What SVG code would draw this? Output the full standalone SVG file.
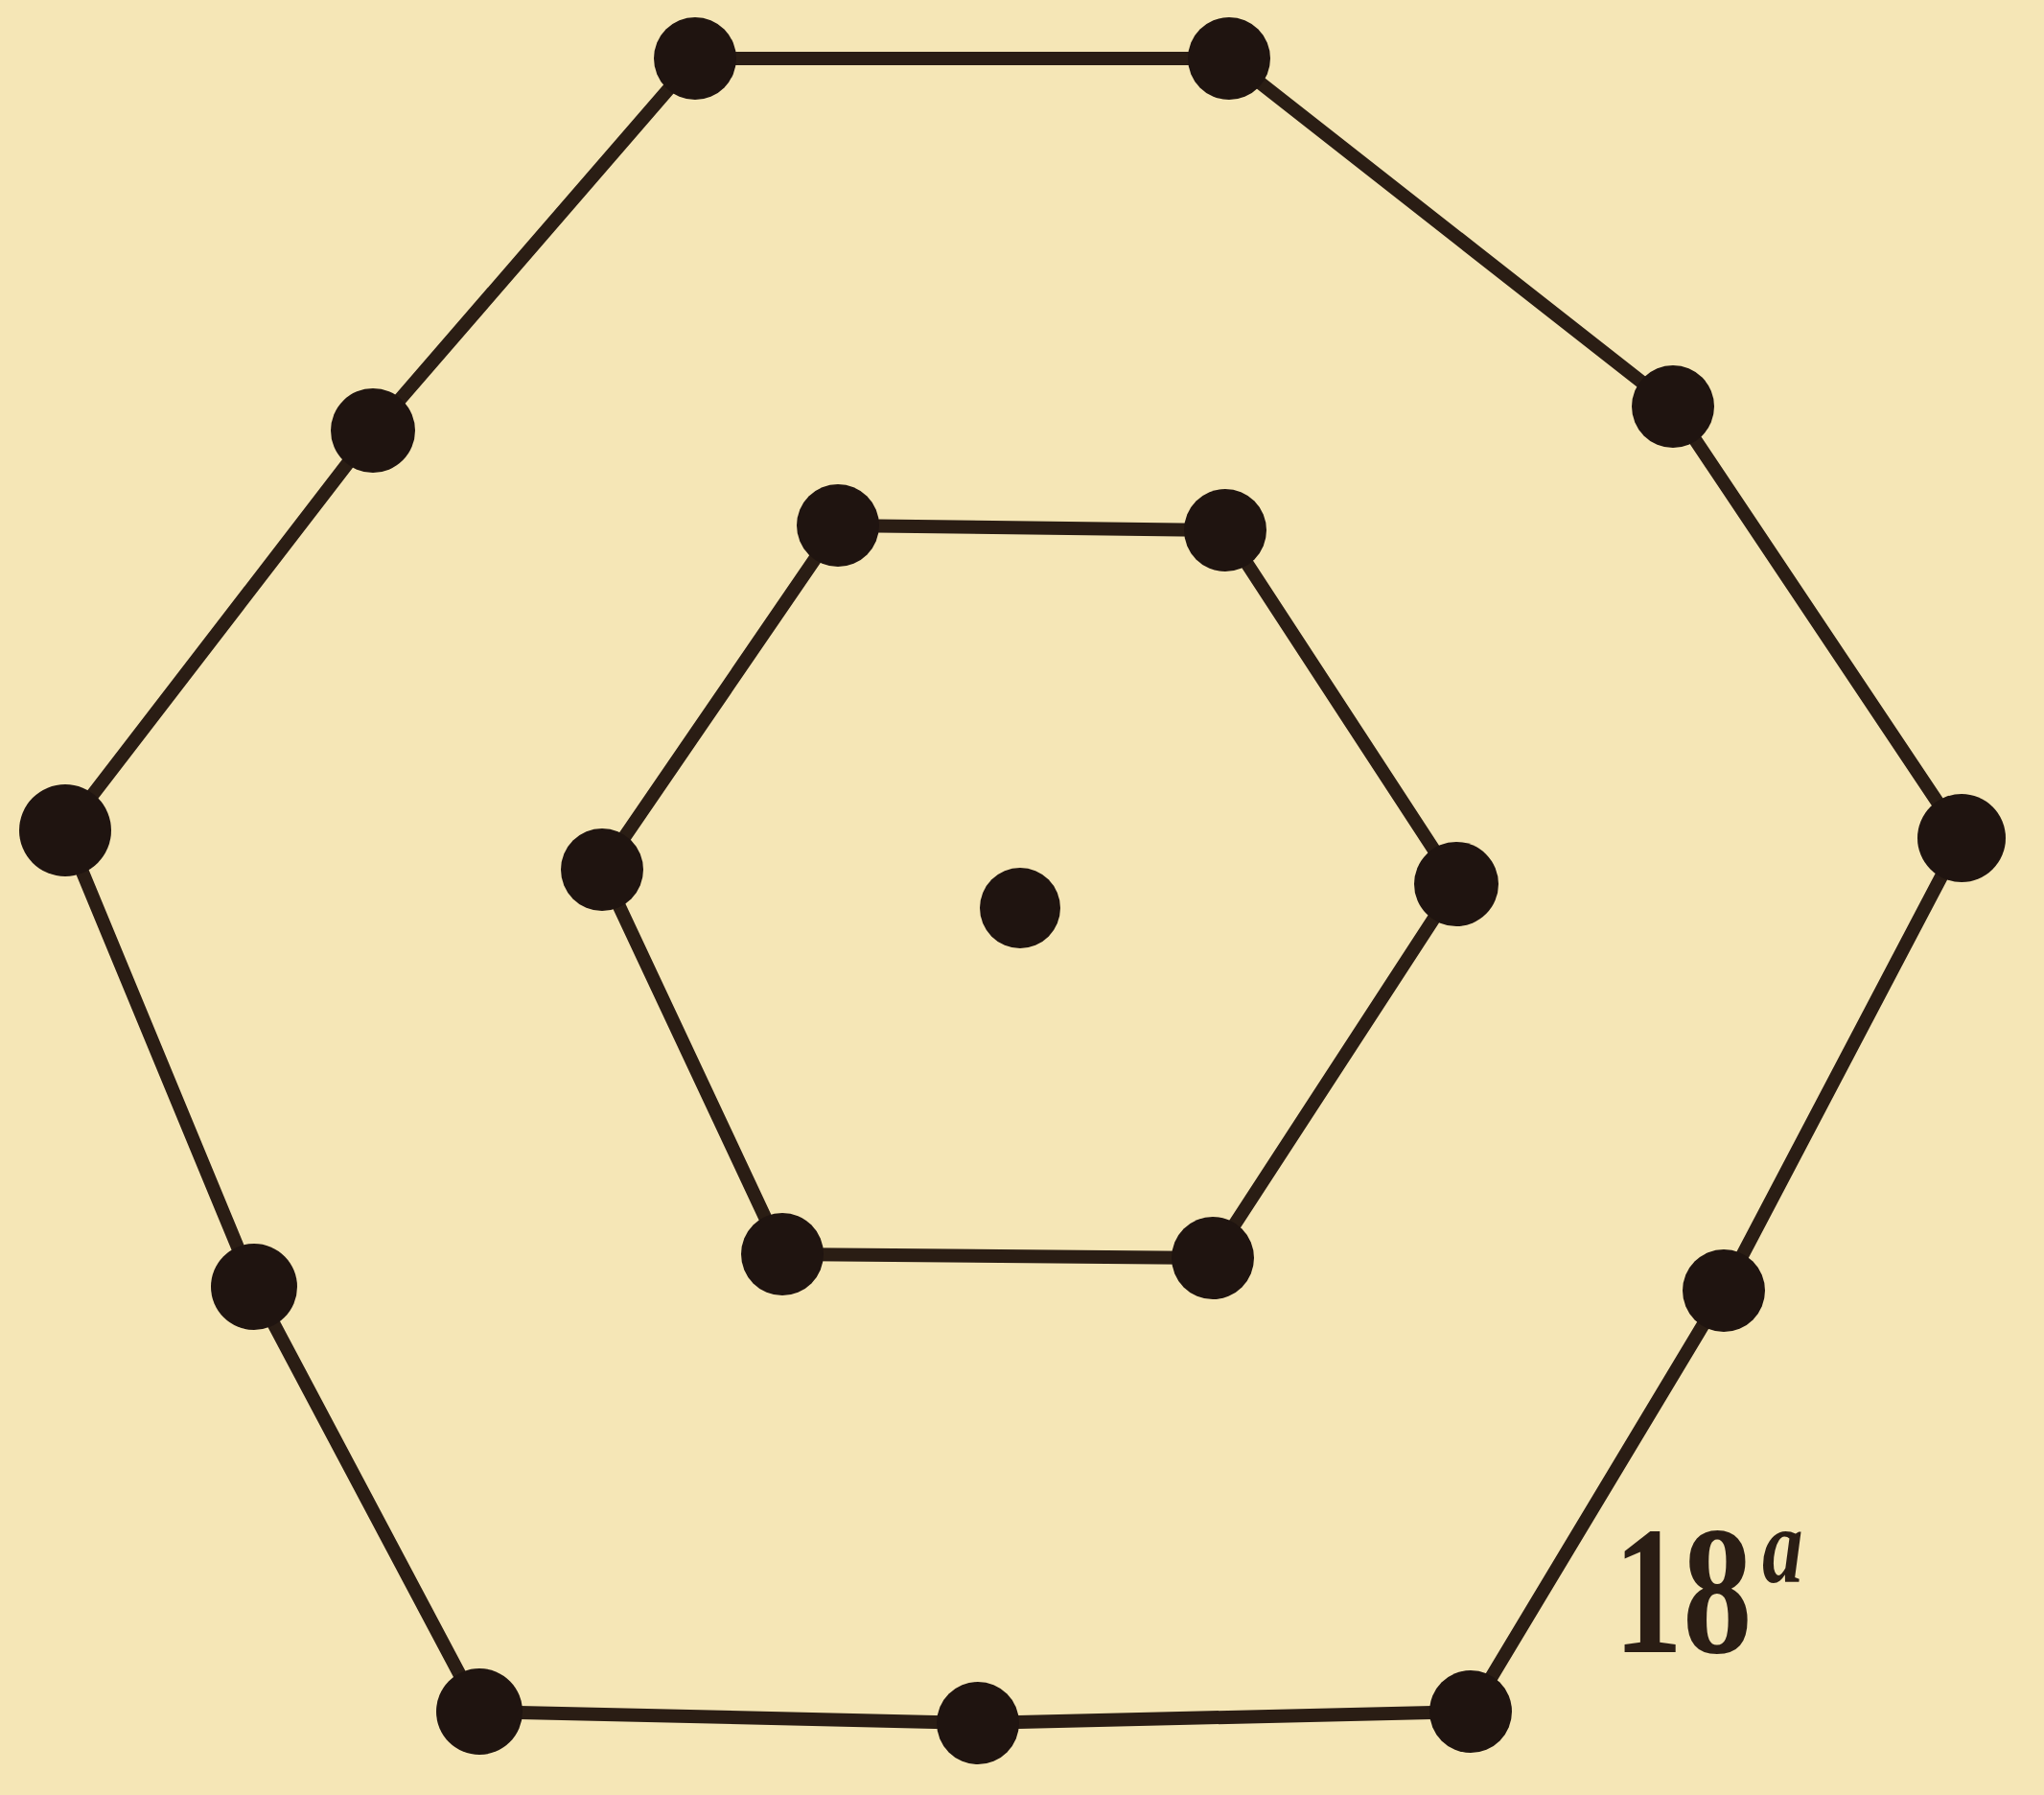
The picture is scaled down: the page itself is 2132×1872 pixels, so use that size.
<svg xmlns="http://www.w3.org/2000/svg" width="2132" height="1872" viewBox="0 0 2132 1872">
<style>
.edge{stroke:#2a1d14;stroke-width:14;fill:none;stroke-linejoin:round}
.dot{fill:#1f1410}
.lbl{font-family:"Liberation Serif","DejaVu Serif",serif;font-weight:bold;fill:#2a1d14}
</style>
<rect width="2132" height="1872" fill="#f5e6b6"/>
<g id="connectors">
<polygon class="edge" points="725,61 1282,61 1745,424 2046,874 1798,1346 1534,1785 1020,1797 500,1785 265,1342 68,866 389,449"/>
<polygon class="edge" points="874,548 1278,553 1519,922 1265,1312 816,1308 628,907"/>
</g>
<g id="outer-ring">
<circle id="o1" class="dot" cx="725" cy="61" r="43"/>
<circle id="o2" class="dot" cx="1282" cy="61" r="43"/>
<circle id="o3" class="dot" cx="1745" cy="424" r="43"/>
<circle id="o4" class="dot" cx="2046" cy="874" r="46"/>
<circle id="o5" class="dot" cx="1798" cy="1346" r="43"/>
<circle id="o6" class="dot" cx="1534" cy="1785" r="43"/>
<circle id="o7" class="dot" cx="1020" cy="1797" r="43"/>
<circle id="o8" class="dot" cx="500" cy="1785" r="45"/>
<circle id="o9" class="dot" cx="265" cy="1342" r="45"/>
<circle id="o10" class="dot" cx="68" cy="866" r="48"/>
<circle id="o11" class="dot" cx="389" cy="449" r="44"/>
</g>
<g id="inner-ring">
<circle id="i1" class="dot" cx="874" cy="548" r="43"/>
<circle id="i2" class="dot" cx="1278" cy="553" r="43"/>
<circle id="i3" class="dot" cx="1519" cy="922" r="44"/>
<circle id="i4" class="dot" cx="1265" cy="1312" r="43"/>
<circle id="i5" class="dot" cx="816" cy="1308" r="43"/>
<circle id="i6" class="dot" cx="628" cy="907" r="43"/>
</g>
<g id="center">
<circle class="dot" cx="1064" cy="947" r="42"/>
</g>
<g id="label">
<text class="lbl" x="1683" y="1723" font-size="190" transform="translate(1683 1723) scale(0.76 1) translate(-1683 -1723)">18<tspan dx="14" dy="-73" font-size="112" font-style="italic">a</tspan></text>
</g>
</svg>
